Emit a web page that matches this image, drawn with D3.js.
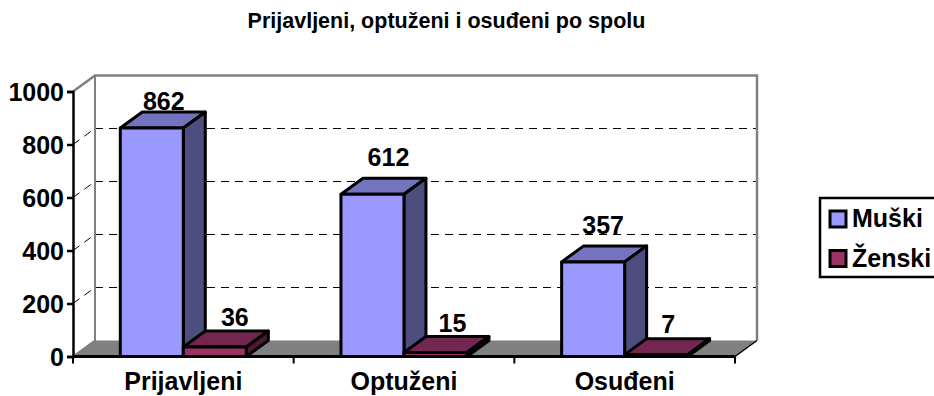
<!DOCTYPE html>
<html><head><meta charset="utf-8">
<style>html,body{margin:0;padding:0;background:#fff;overflow:hidden}svg{display:block}text{font-family:"Liberation Sans",Arial,sans-serif;font-weight:bold;fill:#000}</style>
<script src="https://cdn.jsdelivr.net/npm/d3@7"></script></head><body>
<script>
const categories=["Prijavljeni","Optuženi","Osuđeni"];
const seriesNames=["Muški","Ženski"];
const muski=[862,612,357];
const zenski=[36,15,7];
const yTicks=[0,200,400,600,800,1000];
const chartTitle="Prijavljeni, optuženi i osuđeni po spolu";

const W=934,H=396,dx=22,dy=-16;
const svg=d3.select("body").append("svg").attr("width",W).attr("height",H);
const y=d3.scaleLinear().domain([0,1000]).range([356.5,91.5]);
const x0=d3.scaleBand().domain(categories).range([73,735]);
const x1=d3.scaleBand().domain(seriesNames).range([47.3,173.3]);
const colors={"Muški":["#9999ff","#7373bf","#4d4d80"],"Ženski":["#993366","#732650","#4d1a33"]};
const labelNudge={"Muški":[[12,2],[16,12],[10,12]],"Ženski":[[20,5],[17,5],[12,6]]};
const L=73,R=735,B=y(0),T=y(1000),FS=25;

svg.append("path").attr("d",`M${L},${B}L${L+dx},${B+dy}L${R+dx},${B+dy}L${R},${B}Z`).attr("fill","#808080");
yTicks.slice(1,5).forEach(v=>{
  svg.append("line").attr("x1",L+dx).attr("x2",R+dx).attr("y1",y(v)+dy).attr("y2",y(v)+dy).attr("stroke","#000").attr("stroke-width",1).attr("stroke-dasharray","8 6");
  svg.append("line").attr("x1",L).attr("x2",L+dx).attr("y1",y(v)).attr("y2",y(v)+dy).attr("stroke","#000").attr("stroke-width",1).attr("stroke-dasharray","8 6");
});
svg.append("path").attr("d",`M${L},${T}L${L+dx},${T+dy}L${R+dx},${T+dy}L${R+dx},${B+dy}`).attr("fill","none").attr("stroke","#808080").attr("stroke-width",2.5);
svg.append("path").attr("d",`M${L+dx},${T+dy}L${L+dx},${B+dy}L${L},${B}`).attr("fill","none").attr("stroke","#808080").attr("stroke-width",2);
svg.append("line").attr("x1",R).attr("y1",B).attr("x2",R+dx).attr("y2",B+dy).attr("stroke","#000").attr("stroke-width",1.5);

function bar(g,xs,w,v,c){
  const yt=y(v);
  const add=(d,f)=>g.append("path").attr("d",d).attr("fill",f).attr("stroke","#000").attr("stroke-width",3).attr("stroke-linejoin","round");
  add(`M${xs},${yt}L${xs+dx},${yt+dy}L${xs+w+dx},${yt+dy}L${xs+w},${yt}Z`,c[1]);
  add(`M${xs+w},${yt}L${xs+w+dx},${yt+dy}L${xs+w+dx},${B+dy}L${xs+w},${B}Z`,c[2]);
  add(`M${xs},${yt}H${xs+w}V${B}H${xs}Z`,c[0]);
}
const g=svg.append("g");
categories.forEach((cat,i)=>{
  [muski,zenski].forEach((arr,s)=>{
    const nm=seriesNames[s];
    const xs=x0(cat)+x1(nm),w=x1.bandwidth();
    bar(g,xs,w,arr[i],colors[nm]);
    const [nx,ny]=labelNudge[nm][i];
    svg.append("text").attr("x",xs+w/2+nx).attr("y",y(arr[i])+dy-ny).attr("text-anchor","middle").attr("font-size",FS).text(arr[i]);
  });
});

const ya=svg.append("g").attr("transform",`translate(${L},0)`).call(d3.axisLeft(y).tickValues(yTicks).tickSize(6).tickPadding(3).tickFormat(d3.format("d")));
ya.attr("font-family",null);
ya.selectAll("path,line").attr("stroke","#000").attr("stroke-width",2.5);
ya.selectAll("text").attr("font-size",FS).attr("dy","0.36em");
const xa=svg.append("g").attr("transform",`translate(0,${B})`).call(d3.axisBottom(x0).tickSize(0).tickPadding(0));
xa.select("path").remove();
xa.attr("font-family",null);
xa.selectAll("text").attr("font-size",FS).attr("y",33.5).attr("dy",0);
svg.append("path").attr("d",`M${L},${B}H${R}`).attr("stroke","#000").attr("stroke-width",3);
[...categories.map(c=>x0(c)),R].forEach(xp=>{
  svg.append("line").attr("x1",xp).attr("x2",xp).attr("y1",B).attr("y2",B+7).attr("stroke","#000").attr("stroke-width",2);});

svg.append("text").attr("x",446.5).attr("y",28).attr("text-anchor","middle").attr("font-size",21.5).text(chartTitle);

const lg=svg.append("g");
lg.append("rect").attr("x",820).attr("y",198).attr("width",125).attr("height",79).attr("fill","#fff").attr("stroke","#000").attr("stroke-width",2.5);
seriesNames.forEach((n,i)=>{
  const yy=211+i*39.5;
  lg.append("rect").attr("x",830).attr("y",yy).attr("width",16).attr("height",16).attr("fill",colors[n][0]).attr("stroke","#000").attr("stroke-width",3);
  lg.append("text").attr("x",852).attr("y",yy+16).attr("font-size",FS).text(n);
});
</script></body></html>
